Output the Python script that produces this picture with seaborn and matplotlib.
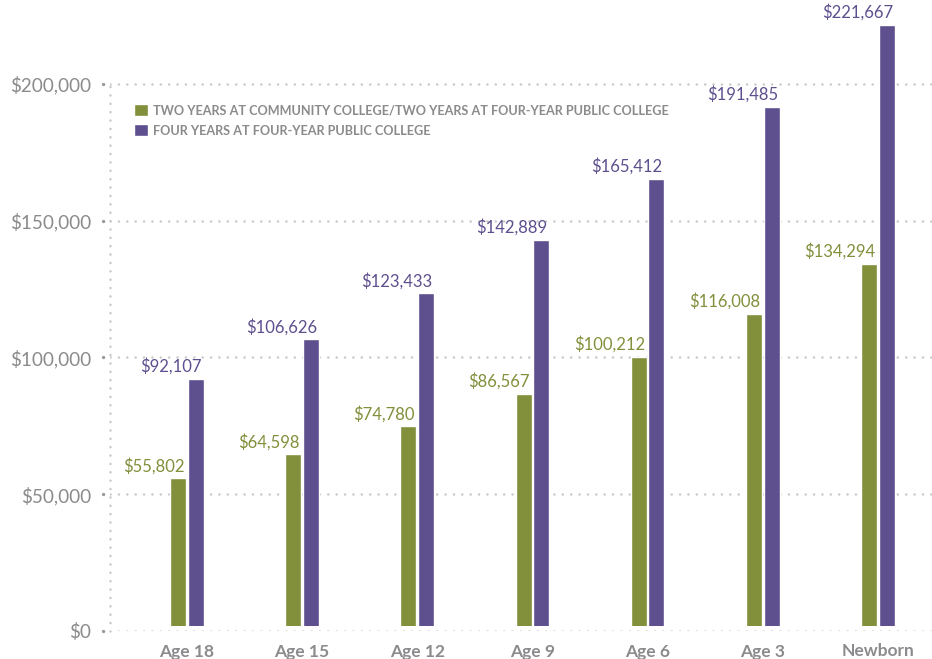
import matplotlib
matplotlib.use("Agg")
import matplotlib.pyplot as plt
import matplotlib.transforms as mtransforms
import seaborn as sns
import pandas as pd

categories = ["Age 18", "Age 15", "Age 12", "Age 9", "Age 6", "Age 3", "Newborn"]
series_names = ["TWO YEARS AT COMMUNITY COLLEGE/TWO YEARS AT FOUR-YEAR PUBLIC COLLEGE",
                "FOUR YEARS AT FOUR-YEAR PUBLIC COLLEGE"]
two_plus_two = [55802, 64598, 74780, 86567, 100212, 116008, 134294]
four_year = [92107, 106626, 123433, 142889, 165412, 191485, 221667]
y_ticks = [0, 50000, 100000, 150000, 200000]
y_tick_labels = ["$0", "$50,000", "$100,000", "$150,000", "$200,000"]

GREEN = "#828f3b"
PURPLE = "#5e4f8e"
GRAY = "#8b8b8d"
GRID = "#c9c9c9"

df = pd.DataFrame({
    "category": categories * 2,
    "series": [series_names[0]] * len(categories) + [series_names[1]] * len(categories),
    "value": two_plus_two + four_year,
})

sns.set_theme(style="white")
plt.rcParams["font.family"] = ["Lato", "DejaVu Sans"]

fig = plt.figure(figsize=(9.32, 6.59), dpi=100)
ax = fig.add_axes([110 / 932, 28 / 659, 822 / 932, 631 / 659])

sns.barplot(data=df, x="category", y="value", hue="series", order=categories,
            hue_order=series_names, palette=[GREEN, PURPLE], width=0.304, gap=0.086,
            saturation=1, ax=ax, legend=True, zorder=2)

ax.set_xlim(-0.667, 6.469)
ax.set_ylim(0, 230700)
for s in ax.spines.values():
    s.set_visible(False)

ax.set_xlabel("")
ax.set_ylabel("")
ax.set_yticks(y_ticks)
ax.set_yticklabels(y_tick_labels)
ax.tick_params(axis="y", length=0, pad=13.5, labelsize=13.6, labelcolor=GRAY)
ax.tick_params(axis="x", length=0, pad=9, labelsize=12.5, labelcolor=GRAY)
for lbl in ax.get_xticklabels():
    lbl.set_fontweight("bold")

DOTS = (0, (0.05, 3.3))
# dotted gridlines
for yv in y_ticks:
    ax.axhline(yv, color=GRID, linestyle=DOTS, linewidth=1.8,
               dash_capstyle="round", zorder=0.5 if yv else 3)
# small tick dots
trans = mtransforms.blended_transform_factory(ax.transAxes, ax.transData)
for yv in y_ticks:
    ax.plot([-0.0085, -0.0025], [yv, yv], transform=trans, color="#9a9a9a",
            linestyle=(0, (0.05, 1.6)), linewidth=2.4, dash_capstyle="round",
            clip_on=False, zorder=3)
# vertical dotted axis line
ax.plot([0.0005, 0.0005], [0, y_ticks[-1]], transform=trans, color=GRID,
        linestyle=DOTS, linewidth=1.8, dash_capstyle="round",
        clip_on=False, zorder=0.5)
# small white gap at the bottom of the bars
ax.axhspan(0, 1900, color="white", zorder=2.5, linewidth=0)

# value labels (right-aligned to each bar's right edge)
for container, color in zip(ax.containers, [GREEN, PURPLE]):
    for bar in container:
        h = bar.get_height()
        ax.annotate(f"${h:,.0f}", xy=(bar.get_x() + bar.get_width() - 0.014, h),
                    xytext=(0, 3), textcoords="offset points", ha="right", va="bottom",
                    color=color, fontsize=12, zorder=4)

# legend
handles, labels = ax.get_legend_handles_labels()
leg = ax.legend(handles, labels, loc="upper left", bbox_to_anchor=(19 / 822, 1 - 99 / 631),
                frameon=False, fontsize=9.1, handlelength=1.1, handleheight=1.1,
                handletextpad=0.4, labelspacing=0.62, borderaxespad=0)
for t in leg.get_texts():
    t.set_color(GRAY)
    t.set_fontweight("bold")

fig.savefig("out.png", dpi=100, facecolor="white")
